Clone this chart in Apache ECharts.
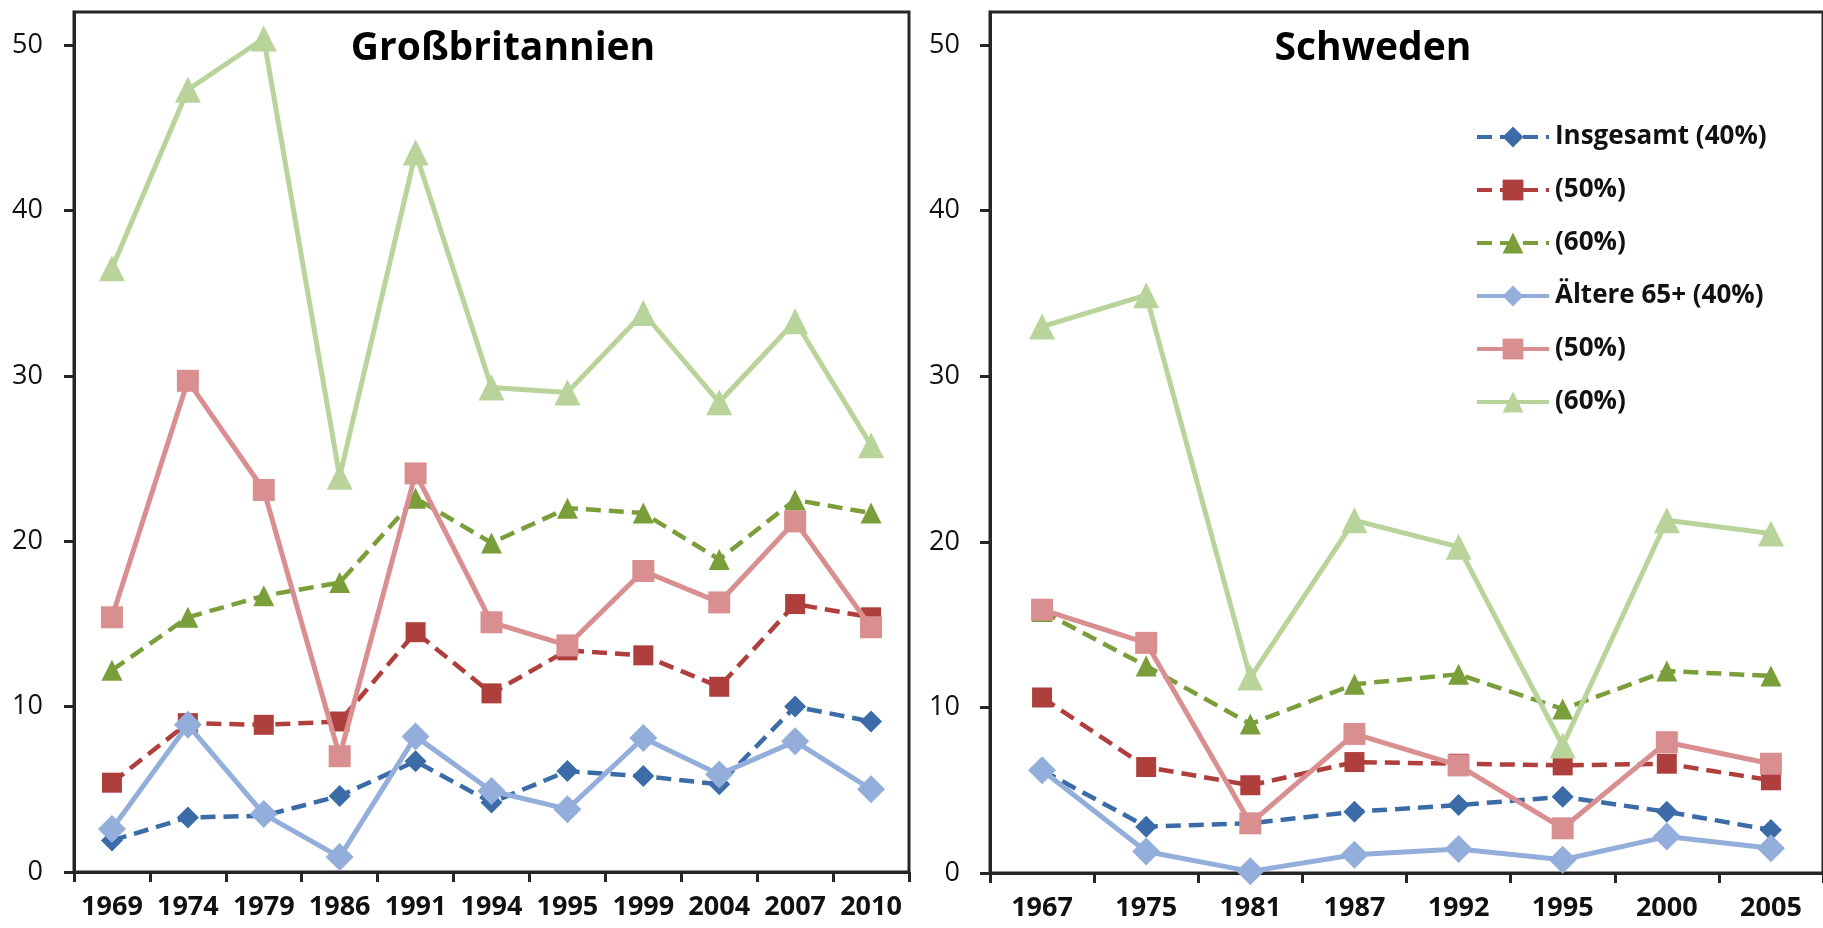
<!DOCTYPE html>
<html>
<head>
<meta charset="utf-8">
<script src="https://cdn.jsdelivr.net/npm/echarts@6/dist/echarts.min.js"></script>
<style>
  html, body { margin: 0; padding: 0; background: #ffffff; }
  #chart { width: 1823px; height: 928px; }
</style>
</head>
<body>
<div id="chart"></div>
<script>
// ---- Data ----
const titleGB = 'Großbritannien';
const titleSE = 'Schweden';

const yearsGB = ['1969', '1974', '1979', '1986', '1991', '1994', '1995', '1999', '2004', '2007', '2010'];
const yearsSE = ['1967', '1975', '1981', '1987', '1992', '1995', '2000', '2005'];

const seriesNames = ['Insgesamt (40%)', '(50%)', '(60%)', 'Ältere 65+ (40%)', '(50%) ', '(60%) '];

// Großbritannien
const gbAll40 = [1.9, 3.3, 3.4, 4.6, 6.7, 4.2, 6.1, 5.8, 5.3, 10.0, 9.1];
const gbAll50 = [5.4, 9.0, 8.9, 9.1, 14.5, 10.8, 13.4, 13.1, 11.2, 16.2, 15.4];
const gbAll60 = [12.2, 15.4, 16.7, 17.5, 22.6, 19.9, 22.0, 21.7, 18.9, 22.5, 21.7];
const gbOld40 = [2.6, 8.9, 3.5, 0.9, 8.2, 4.9, 3.8, 8.1, 5.9, 7.9, 5.0];
const gbOld50 = [15.4, 29.7, 23.1, 7.0, 24.1, 15.1, 13.7, 18.2, 16.3, 21.2, 14.8];
const gbOld60 = [36.5, 47.3, 50.4, 23.9, 43.5, 29.3, 29.0, 33.8, 28.4, 33.3, 25.8];

// Schweden
const seAll40 = [6.2, 2.8, 3.0, 3.7, 4.1, 4.6, 3.7, 2.6];
const seAll50 = [10.6, 6.4, 5.3, 6.7, 6.6, 6.5, 6.6, 5.6];
const seAll60 = [15.8, 12.5, 9.0, 11.4, 12.0, 9.9, 12.2, 11.9];
const seOld40 = [6.2, 1.3, 0.1, 1.1, 1.45, 0.8, 2.2, 1.5];
const seOld50 = [15.9, 13.9, 3.0, 8.4, 6.5, 2.7, 7.9, 6.6];
const seOld60 = [33.0, 34.9, 11.8, 21.3, 19.7, 7.7, 21.3, 20.5];

const yTicks = [0, 10, 20, 30, 40, 50];

// ---- Styles ----
const FONT = '"Open Sans", "Liberation Sans", sans-serif';
const AXIS_COLOR = '#262626';
const colors = ['#3B6CA8', '#AF3F3C', '#7A9E3A', '#93AEDA', '#D98F90', '#B9D49A'];
const symbols = ['diamond', 'rect', 'triangle', 'diamond', 'rect', 'triangle'];
const symbolSizes = [22, 20, 21, 28, 22, 26];
const lineWidths = [4.5, 4.5, 4.5, 5, 5, 5];
const dashed = [true, true, true, false, false, false];

const chart = echarts.init(document.getElementById('chart'), null, { renderer: 'canvas' });

function yAxisCfg(gridIndex, margin) {
  return {
    type: 'value', gridIndex: gridIndex, min: 0, max: 52, interval: 10,
    splitLine: { show: false },
    axisLine: { show: true, lineStyle: { color: AXIS_COLOR, width: 3 } },
    axisTick: { show: true, length: 10, customValues: yTicks, lineStyle: { color: AXIS_COLOR, width: 3 } },
    axisLabel: {
      customValues: yTicks, margin: margin, fontFamily: FONT, fontSize: 27, color: '#111',
      formatter: function (v) { return (v % 10 === 0) ? String(v) : ''; }
    }
  };
}
function xAxisCfg(gridIndex, cats) {
  return {
    type: 'category', gridIndex: gridIndex, data: cats, boundaryGap: true,
    axisLine: { show: true, onZero: false, lineStyle: { color: AXIS_COLOR, width: 3 } },
    axisTick: { show: true, length: 10, alignWithLabel: false, lineStyle: { color: AXIS_COLOR, width: 3 } },
    axisLabel: { margin: 22, fontFamily: FONT, fontSize: 27, fontWeight: 'bold', color: '#111', interval: 0 }
  };
}

function makeSeries(gridIdx, arrays) {
  return arrays.map(function (arr, i) {
    return {
      name: seriesNames[i], type: 'line', xAxisIndex: gridIdx, yAxisIndex: gridIdx,
      data: arr, symbol: symbols[i], symbolSize: symbolSizes[i], showSymbol: true,
      z: 2 + i,
      lineStyle: { color: colors[i], width: lineWidths[i], type: dashed[i] ? [15, 8] : 'solid' },
      itemStyle: { color: colors[i], borderWidth: 0, opacity: 1 },
      emphasis: { disabled: true },
      animation: false
    };
  });
}

const option = {
  animation: false,
  backgroundColor: '#ffffff',
  title: [
    { text: titleGB, left: 503, top: 29, padding: 0, textAlign: 'center',
      textStyle: { fontFamily: FONT, fontSize: 39, fontWeight: 'bold', color: '#000' } },
    { text: titleSE, left: 1373, top: 29, padding: 0, textAlign: 'center',
      textStyle: { fontFamily: FONT, fontSize: 39, fontWeight: 'bold', color: '#000' } }
  ],
  legend: {
    data: seriesNames,
    orient: 'vertical', left: 1470, top: 119,
    itemWidth: 72, itemHeight: 26, itemGap: 27,
    lineStyle: { width: 4 },
    textStyle: { fontFamily: FONT, fontSize: 26, fontWeight: 'bold', color: '#111', padding: [0, 0, 0, 1] },
    selectedMode: false
  },
  grid: [
    { left: 74, right: 914, top: 12, bottom: 56, show: true, borderColor: AXIS_COLOR, borderWidth: 3, containLabel: false },
    { left: 990, right: -9, top: 12, bottom: 55, show: true, borderColor: AXIS_COLOR, borderWidth: 3, containLabel: false }
  ],
  xAxis: [xAxisCfg(0, yearsGB), xAxisCfg(1, yearsSE)],
  yAxis: [yAxisCfg(0, 31), yAxisCfg(1, 30)],
  series: [].concat(
    makeSeries(0, [gbAll40, gbAll50, gbAll60, gbOld40, gbOld50, gbOld60]),
    makeSeries(1, [seAll40, seAll50, seAll60, seOld40, seOld50, seOld60])
  )
};
chart.setOption(option);
</script>
</body>
</html>
